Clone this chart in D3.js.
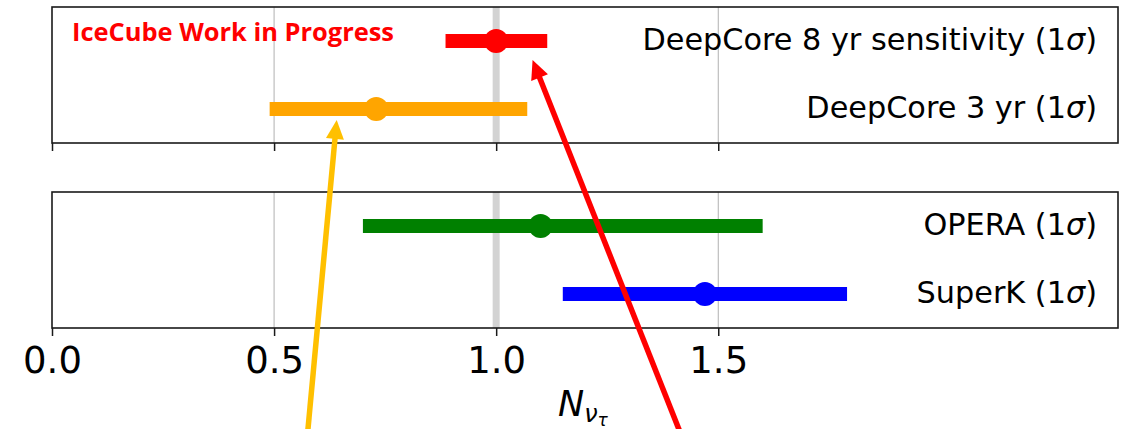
<!DOCTYPE html>
<html><head><meta charset="utf-8">
<script src="https://cdn.jsdelivr.net/npm/d3@7"></script>
<style>body{margin:0;background:#fff}svg{display:block}</style>
</head><body><div id="chart"></div>
<script>
// ---- data ----
const topNames = ["DeepCore 8 yr sensitivity", "DeepCore 3 yr"];
const topCenter = [1.0, 0.73];
const topLow = [0.886, 0.49];
const topHigh = [1.115, 1.07];
const topColors = ["#ff0000", "#ffa500"];

const botNames = ["OPERA", "SuperK"];
const botCenter = [1.10, 1.47];
const botLow = [0.70, 1.15];
const botHigh = [1.60, 1.79];
const botColors = ["#008000", "#0000ff"];

const xTicks = [0.0, 0.5, 1.0, 1.5];
const xTickLabels = ["0.0", "0.5", "1.0", "1.5"];
const refValue = 1.0;
const xDomain = [0, 2.4];

// arrows: tip/tail x in data units, y in page pixels
const arrowColor = ["#ffc000", "#ff0000"];
const arrowTipX = [0.641, 1.082];
const arrowTipY = [120, 60];
const arrowTailX = [0.574, 1.421];
const arrowTailY = [440, 440];

// ---- layout ----
const W = 1123, H = 429;
const left = 52, right = 1118;
const panels = [
  {y0: 7, y1: 143, names: topNames, c: topCenter, lo: topLow, hi: topHigh, col: topColors},
  {y0: 192, y1: 328, names: botNames, c: botCenter, lo: botLow, hi: botHigh, col: botColors}
];

const svg = d3.select("#chart").append("svg").attr("width", W).attr("height", H);
const x = d3.scaleLinear().domain(xDomain).range([left, right]);

panels.forEach((p, pi) => {
  const y = d3.scalePoint().domain(p.names).range([p.y0, p.y1]).padding(0.5);
  const g = svg.append("g");
  g.selectAll("line.grid").data(xTicks.filter(d => d > 0)).join("line")
    .attr("x1", d => x(d)).attr("x2", d => x(d))
    .attr("y1", p.y0).attr("y2", p.y1)
    .attr("stroke", "#b0b0b0").attr("stroke-width", 1);
  g.append("line").attr("x1", x(refValue)).attr("x2", x(refValue))
    .attr("y1", p.y0).attr("y2", p.y1)
    .attr("stroke", "#d3d3d3").attr("stroke-width", 7);
  p.names.forEach((n, i) => {
    g.append("line").attr("x1", x(p.lo[i])).attr("x2", x(p.hi[i]))
      .attr("y1", y(n)).attr("y2", y(n))
      .attr("stroke", p.col[i]).attr("stroke-width", 14);
    g.append("circle").attr("cx", x(p.c[i])).attr("cy", y(n)).attr("r", 12)
      .attr("fill", p.col[i]);
    const t = g.append("text").attr("x", 1097).attr("y", y(n) + 9)
      .attr("text-anchor", "end")
      .attr("font-family", "DejaVu Sans").attr("font-size", 30.3).attr("fill", "#000");
    t.append("tspan").text(n + " (1");
    t.append("tspan").attr("font-style", "italic").text("σ");
    t.append("tspan").text(")");
  });
  g.append("rect").attr("x", left).attr("y", p.y0)
    .attr("width", right - left).attr("height", p.y1 - p.y0)
    .attr("fill", "none").attr("stroke", "#1a1a1a").attr("stroke-width", 1.6);
  const ax = d3.axisBottom(x).tickValues(xTicks).tickSize(8).tickSizeOuter(0)
    .tickFormat((d, i) => pi === 1 ? xTickLabels[i] : "");
  const axg = svg.append("g").attr("transform", `translate(0,${p.y1})`).call(ax);
  axg.select(".domain").remove();
  axg.selectAll(".tick line").attr("stroke", "#1a1a1a").attr("stroke-width", 1.5);
  axg.selectAll(".tick text").attr("font-family", "DejaVu Sans").attr("font-size", 37)
    .attr("fill", "#000").attr("dy", null).attr("y", 45);
});

// IceCube label
svg.append("text").attr("x", 72).attr("y", 41)
  .attr("font-family", "Open Sans").attr("font-weight", "bold").attr("font-size", 25)
  .attr("textLength", 322).attr("lengthAdjust", "spacingAndGlyphs")
  .attr("fill", "#ff0000").text("IceCube Work in Progress");

// axis label N_{nu_tau}
const xl = svg.append("text").attr("x", 558).attr("y", 416)
  .attr("font-family", "DejaVu Sans").attr("font-style", "italic").attr("fill", "#000");
xl.append("tspan").attr("font-size", 35).text("N");
xl.append("tspan").attr("font-size", 24).attr("dy", 6).text("ν");
xl.append("tspan").attr("font-size", 17).attr("dy", 4).text("τ");

// arrows
arrowColor.forEach((c, i) => {
  const tx = x(arrowTipX[i]), ty = arrowTipY[i];
  const sx = x(arrowTailX[i]), sy = arrowTailY[i];
  const dx = tx - sx, dy = ty - sy, L = Math.hypot(dx, dy);
  const ux = dx / L, uy = dy / L;
  const hl = 19, hw = 9;
  const bx = tx - ux * hl, by = ty - uy * hl;
  svg.append("line").attr("x1", sx).attr("y1", sy).attr("x2", bx + ux * 2).attr("y2", by + uy * 2)
    .attr("stroke", c).attr("stroke-width", 5.5);
  svg.append("path")
    .attr("d", `M${tx},${ty}L${bx - uy * hw},${by + ux * hw}L${bx + uy * hw},${by - ux * hw}Z`)
    .attr("fill", c);
});
</script></body></html>
